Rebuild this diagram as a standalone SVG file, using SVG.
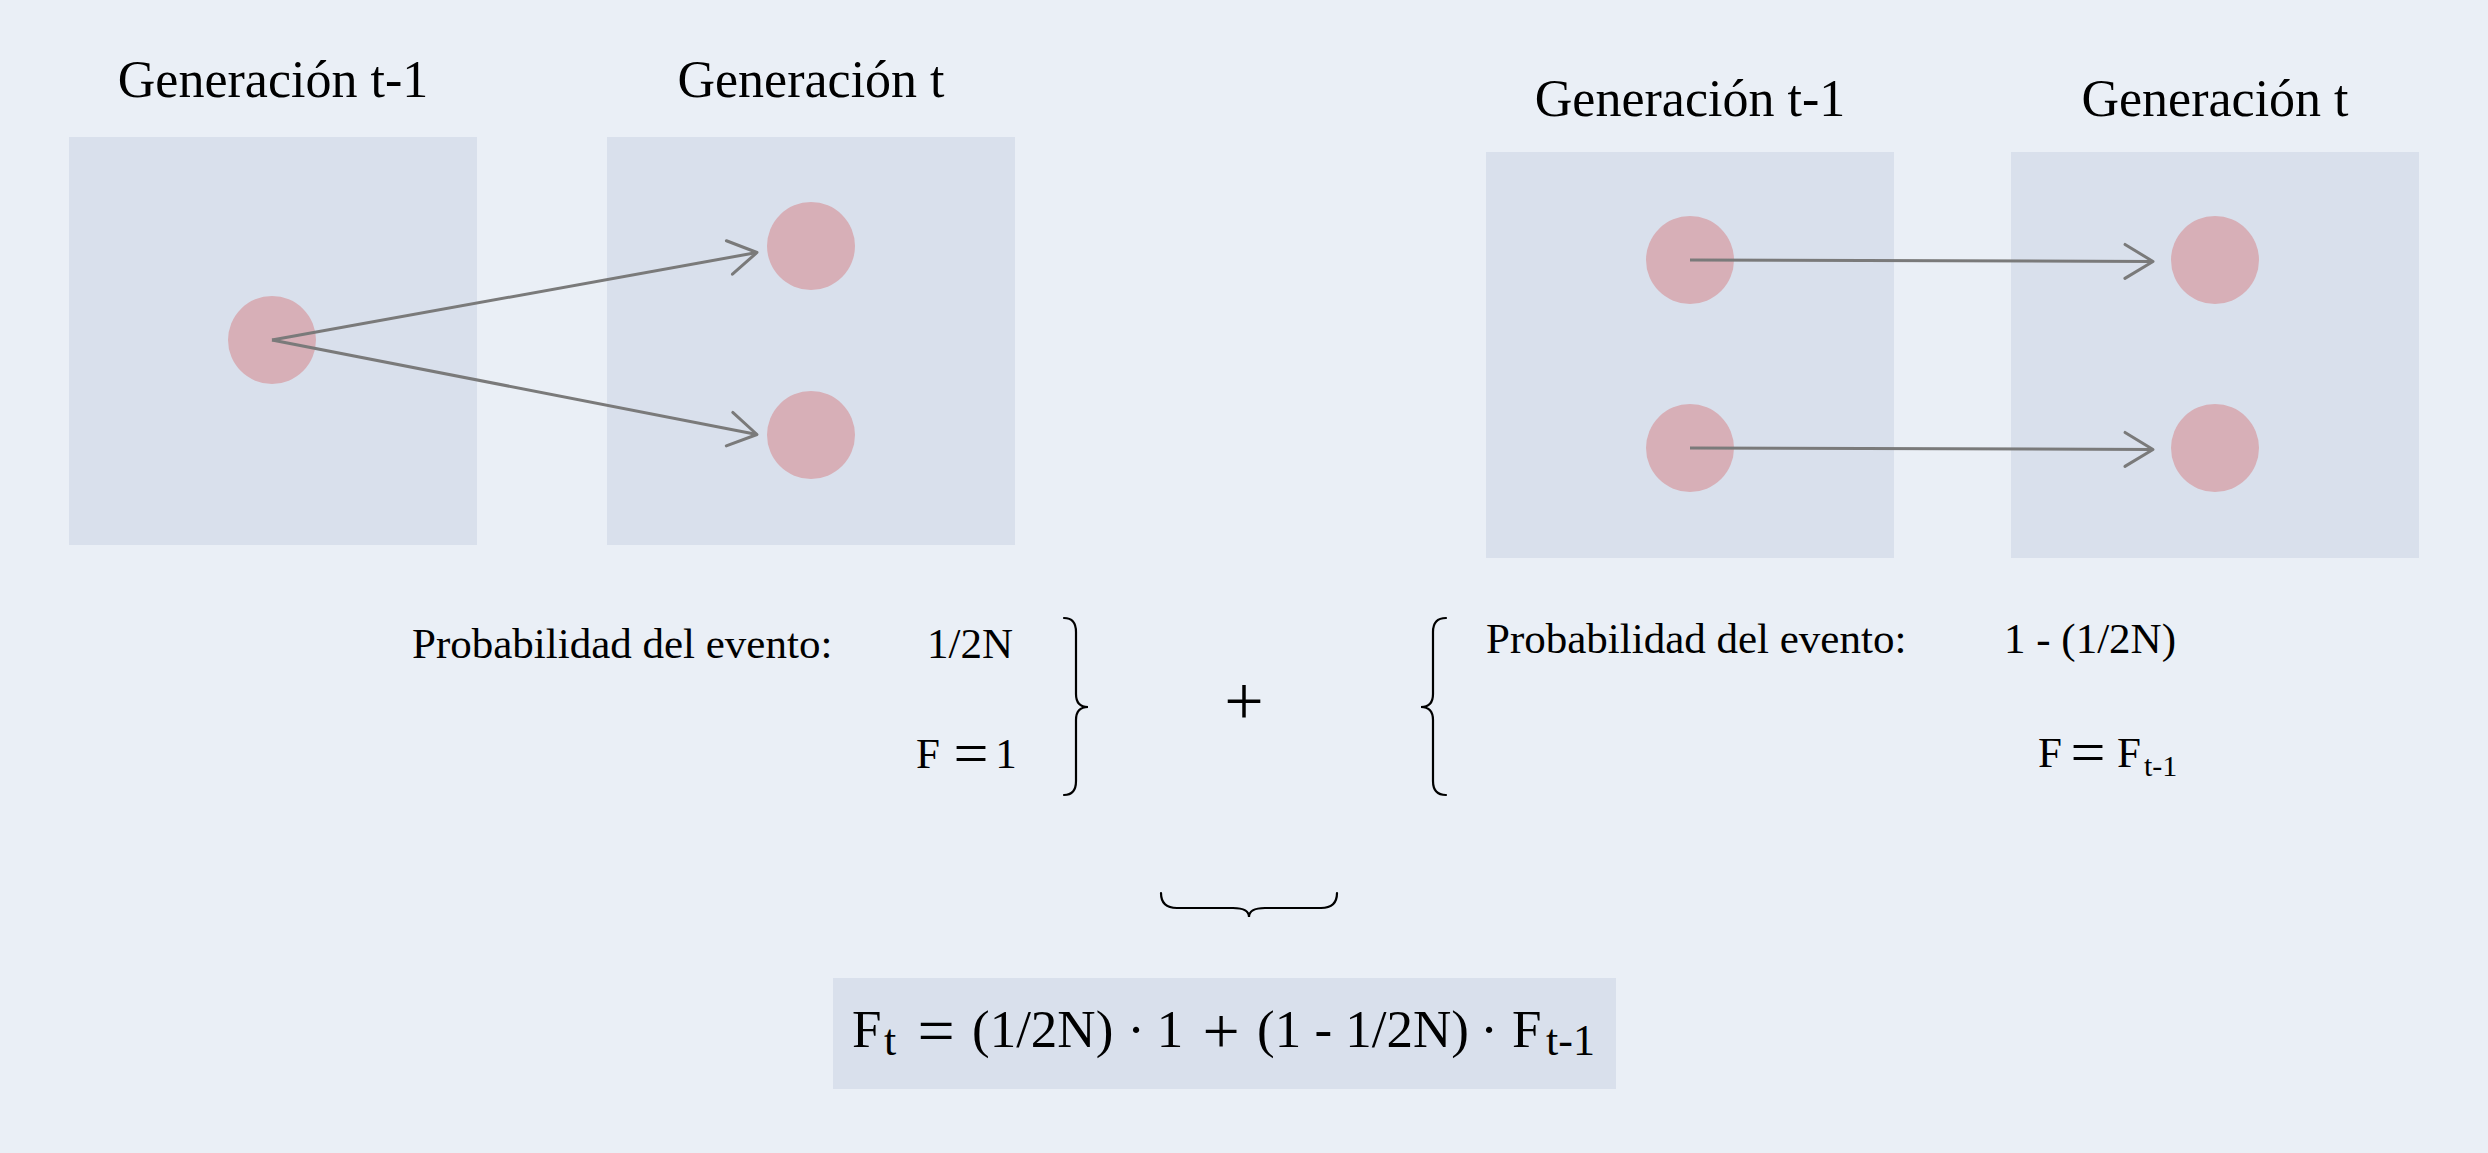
<svg xmlns="http://www.w3.org/2000/svg" width="2488" height="1153" viewBox="0 0 2488 1153">
<style>
.bg{fill:#eaeff6}
.panel{fill:#d9e0ec}
.dot{fill:#d7afb7}
text{font-family:"Liberation Serif","DejaVu Serif",serif;fill:#000}
.title{font-size:52px;text-anchor:middle}
.lbl{font-size:43px}
.rel{font-size:62px;text-anchor:middle}
.eq{font-size:53px}
.eqop{font-size:66px;text-anchor:middle}
.eqsub{font-size:44px}
.mid{text-anchor:middle}
.edge{stroke:#7a7a7a;stroke-width:3;fill:none}
.brace{stroke:#000;stroke-width:2.2;fill:none;stroke-linecap:round}
</style>
<defs>
<marker id="arr" markerUnits="userSpaceOnUse" viewBox="-34 -22 40 44" markerWidth="40" markerHeight="44" refX="0" refY="0" orient="auto">
<path d="M-28,-17 L0,0 L-28,17" fill="none" stroke="#7a7a7a" stroke-width="3" stroke-linejoin="round" stroke-linecap="round"/>
</marker>
</defs>
<rect class="bg" x="0" y="0" width="2488" height="1153"/>

<g id="panel-left-prev">
<rect class="panel" x="69" y="137" width="408" height="408"/>
<text class="title" x="273" y="97">Generación t-1</text>
</g>
<g id="panel-left-curr">
<rect class="panel" x="607" y="137" width="408" height="408"/>
<text class="title" x="811" y="97">Generación t</text>
</g>
<g id="panel-right-prev">
<rect class="panel" x="1486" y="152" width="408" height="406"/>
<text class="title" x="1690" y="116">Generación t-1</text>
</g>
<g id="panel-right-curr">
<rect class="panel" x="2011" y="152" width="408" height="406"/>
<text class="title" x="2215" y="116">Generación t</text>
</g>

<g id="node-a"><circle class="dot" cx="272" cy="340" r="44"/></g>
<g id="node-b1"><circle class="dot" cx="811" cy="246" r="44"/></g>
<g id="node-b2"><circle class="dot" cx="811" cy="435" r="44"/></g>
<g id="node-c1"><circle class="dot" cx="1690" cy="260" r="44"/></g>
<g id="node-c2"><circle class="dot" cx="1690" cy="448" r="44"/></g>
<g id="node-d1"><circle class="dot" cx="2215" cy="260" r="44"/></g>
<g id="node-d2"><circle class="dot" cx="2215" cy="448" r="44"/></g>

<g id="connectors">
<line class="edge" x1="272" y1="340" x2="757" y2="252.5" marker-end="url(#arr)"/>
<line class="edge" x1="272" y1="340" x2="757" y2="434.5" marker-end="url(#arr)"/>
<line class="edge" x1="1690" y1="260" x2="2153" y2="261.5" marker-end="url(#arr)"/>
<line class="edge" x1="1690" y1="448" x2="2153" y2="449.5" marker-end="url(#arr)"/>
</g>

<g id="left-event">
<text class="lbl" x="412" y="658">Probabilidad del evento:</text>
<text class="lbl" x="1013" y="658" text-anchor="end">1/2N</text>
<text class="lbl" x="916" y="768">F</text>
<text class="rel" x="971" y="774">=</text>
<text class="lbl mid" x="1006" y="768">1</text>
<path class="brace" d="M1064,618 Q1076,618 1076,632 L1076,694 Q1076,707 1088,707 Q1076,707 1076,720 L1076,781 Q1076,795 1064,795"/>
</g>

<g id="plus">
<text class="mid" x="1244" y="725" style="font-size:70px">+</text>
</g>

<g id="right-event">
<path class="brace" d="M1446,618 Q1433,618 1433,632 L1433,694 Q1433,707 1421,707 Q1433,707 1433,720 L1433,781 Q1433,795 1446,795"/>
<text class="lbl" x="1486" y="653">Probabilidad del evento:</text>
<text class="lbl" x="2176" y="653" text-anchor="end">1 - (1/2N)</text>
<text class="lbl" x="2038" y="767">F</text>
<text class="rel" x="2088" y="773">=</text>
<text class="lbl" x="2117" y="767">F</text>
<text x="2144" y="776" style="font-size:30px">t-1</text>
</g>

<g id="underbrace">
<path class="brace" d="M1161,893 Q1161,908 1177,908 L1233,908 Q1249,908 1249,917 Q1249,908 1265,908 L1321,908 Q1337,908 1337,893"/>
</g>

<g id="formula">
<rect class="panel" x="833" y="978" width="783" height="111"/>
<text class="eq" x="852" y="1047">F</text>
<text class="eqsub" x="884" y="1055">t</text>
<text class="eqop" x="936" y="1053">=</text>
<text class="eq" x="972" y="1047">(1/2N)</text>
<text class="eq mid" x="1136" y="1047">·</text>
<text class="eq mid" x="1170" y="1047">1</text>
<text class="eqop" x="1221" y="1053">+</text>
<text class="eq" x="1257" y="1047">(1 - 1/2N)</text>
<text class="eq mid" x="1489" y="1047">·</text>
<text class="eq" x="1512" y="1047">F</text>
<text class="eqsub" x="1546" y="1055">t-1</text>
</g>
</svg>
